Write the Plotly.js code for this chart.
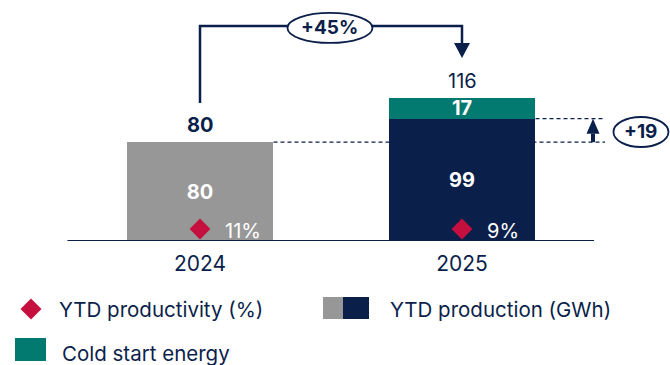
<!DOCTYPE html>
<html>
<head>
<meta charset="utf-8">
<script src="https://cdn.plot.ly/plotly-3.0.1.min.js"></script>
<style>html,body{margin:0;padding:0;background:#fff;}#chart{width:670px;height:365px;}</style>
</head>
<body>
<div id="chart"></div>
<script>
// ---- data ----
const years = ['2024', '2025'];
const production = [80, 99];          // YTD production (GWh)
const coldStart = [0, 17];            // Cold start energy (GWh)
const productivity = [11, 9];         // YTD productivity (%)
const totals = production.map((v, i) => v + coldStart[i]);   // 80, 116
const growthLabel = '+45%';
const deltaLabel = '+19';

// ---- styles ----
const NAVY = '#0b1f4b';
const GREY = '#979797';
const TEAL = '#037a6f';
const RED = '#c50f3f';
const FONT = 'Inter, "Noto Sans", sans-serif';

const xPos = years.map((_, i) => i);
const BW = 0.561;
const PLOT_H = 241;     // plot area height in px
const YMAX = 195;
const pxY = YMAX / PLOT_H;  // data units per px
const pxX = 1 / 262;        // data units per px
const diamondLevel = 9.7;

const traces = [
  {
    type: 'bar', x: xPos, y: production, width: BW,
    marker: {color: [GREY, NAVY], line: {width: 0}},
    text: production.map(v => '<b>' + v + '</b>'), textposition: 'inside', insidetextanchor: 'middle',
    textangle: 0, constraintext: 'none',
    textfont: {color: '#ffffff', size: 20, family: FONT},
    hoverinfo: 'skip', showlegend: false
  },
  {
    type: 'bar', x: xPos.filter((_, i) => coldStart[i] > 0), y: coldStart.filter(v => v > 0), width: BW,
    marker: {color: TEAL, line: {width: 0}},
    text: coldStart.filter(v => v > 0).map(v => '<b>' + v + '</b>'), textposition: 'inside', insidetextanchor: 'middle',
    textangle: 0, constraintext: 'none',
    textfont: {color: '#ffffff', size: 20, family: FONT},
    hoverinfo: 'skip', showlegend: false
  },
  {
    type: 'scatter', mode: 'markers', x: xPos, y: xPos.map(() => diamondLevel),
    marker: {symbol: 'diamond', size: 16, color: RED, line: {width: 0}},
    cliponaxis: false, hoverinfo: 'skip', showlegend: false
  }
];

const shapes = [];
const annotations = [];

// totals above bars
xPos.forEach((x, i) => {
  annotations.push({xref: 'x', yref: 'y', x: x, y: totals[i], yshift: 17, xanchor: 'center', yanchor: 'middle',
    text: coldStart[i] > 0 ? String(totals[i]) : '<b>' + totals[i] + '</b>', showarrow: false,
    font: {color: NAVY, size: 20, family: FONT}});
});

// baseline
shapes.push({type: 'line', xref: 'x', yref: 'y', x0: -0.506, x1: 1.504, y0: 0, y1: 0,
  line: {color: NAVY, width: 2}, layer: 'above'});

// growth bracket
const yTop = 174;
const yStart = totals[0] + 31.7;
const headTop = 160.2, headTip = 148;
shapes.push({type: 'path', xref: 'x', yref: 'y',
  path: `M ${xPos[0]} ${yStart} L ${xPos[0]} ${yTop} L ${xPos[1]} ${yTop} L ${xPos[1]} ${headTop}`,
  line: {color: NAVY, width: 2.5}, layer: 'above'});
shapes.push({type: 'path', xref: 'x', yref: 'y',
  path: `M ${xPos[1] - 8 * pxX} ${headTop} L ${xPos[1] + 8 * pxX} ${headTop} L ${xPos[1]} ${headTip} Z`,
  fillcolor: NAVY, line: {color: NAVY, width: 0}, layer: 'above'});
// +45% ellipse
const e1cx = 0.496, e1cy = 172.4;
shapes.push({type: 'circle', xref: 'x', yref: 'y',
  x0: e1cx - 42.5 * pxX, x1: e1cx + 42.5 * pxX, y0: e1cy - 15 * pxY, y1: e1cy + 15 * pxY,
  fillcolor: '#ffffff', line: {color: NAVY, width: 1.8}, layer: 'above'});
annotations.push({xref: 'x', yref: 'y', x: e1cx, y: e1cy, text: '<b>' + growthLabel + '</b>', showarrow: false,
  font: {color: NAVY, size: 19, family: FONT}, xanchor: 'center', yanchor: 'middle'});

// dashed reference lines
const dashEnd = 1.546;
shapes.push({type: 'line', xref: 'x', yref: 'y', x0: xPos[0] + BW / 2, x1: dashEnd, y0: production[0], y1: production[0],
  line: {color: NAVY, width: 1.2, dash: '4px,3px'}, layer: 'above'});
shapes.push({type: 'line', xref: 'x', yref: 'y', x0: xPos[1] + BW / 2, x1: dashEnd, y0: production[1], y1: production[1],
  line: {color: NAVY, width: 1.2, dash: '4px,3px'}, layer: 'above'});
// up arrow
const ax = 1.5;
const upBase = production[1] - 15 * pxY;
shapes.push({type: 'line', xref: 'x', yref: 'y', x0: ax, x1: ax, y0: production[0], y1: upBase,
  line: {color: NAVY, width: 4}, layer: 'above'});
shapes.push({type: 'path', xref: 'x', yref: 'y',
  path: `M ${ax - 6.5 * pxX} ${upBase} L ${ax + 6.5 * pxX} ${upBase} L ${ax} ${production[1]} Z`,
  fillcolor: NAVY, line: {color: NAVY, width: 0}, layer: 'above'});
// +19 ellipse
const e2cx = 1.683, e2cy = 88.2;
shapes.push({type: 'circle', xref: 'x', yref: 'y',
  x0: e2cx - 27.5 * pxX, x1: e2cx + 27.5 * pxX, y0: e2cy - 15 * pxY, y1: e2cy + 15 * pxY,
  fillcolor: '#ffffff', line: {color: NAVY, width: 1.8}, layer: 'above'});
annotations.push({xref: 'x', yref: 'y', x: e2cx, y: e2cy, text: '<b>' + deltaLabel + '</b>', showarrow: false,
  font: {color: NAVY, size: 19, family: FONT}, xanchor: 'center', yanchor: 'middle'});

// productivity labels
xPos.forEach((x, i) => {
  annotations.push({xref: 'x', yref: 'y', x: x, y: diamondLevel, xshift: 23, yshift: -2, xanchor: 'left', yanchor: 'middle',
    text: productivity[i] + '%', showarrow: false, font: {color: '#ffffff', size: 20, family: FONT}});
});

// legend (paper coords from px)
const PX = x => x / 670;
const PY = y => (PLOT_H - y) / PLOT_H;
shapes.push({type: 'path', xref: 'paper', yref: 'paper',
  path: `M ${PX(20.5)} ${PY(309)} L ${PX(31)} ${PY(298.5)} L ${PX(41.5)} ${PY(309)} L ${PX(31)} ${PY(319.5)} Z`,
  fillcolor: RED, line: {width: 0}});
shapes.push({type: 'rect', xref: 'paper', yref: 'paper', x0: PX(323), x1: PX(343), y0: PY(319), y1: PY(297),
  fillcolor: GREY, line: {width: 0}});
shapes.push({type: 'rect', xref: 'paper', yref: 'paper', x0: PX(343), x1: PX(369), y0: PY(319), y1: PY(297),
  fillcolor: NAVY, line: {width: 0}});
shapes.push({type: 'rect', xref: 'paper', yref: 'paper', x0: PX(15), x1: PX(46), y0: PY(361), y1: PY(338),
  fillcolor: TEAL, line: {width: 0}});
const legendText = [
  ['YTD productivity (%)', 57, 310],
  ['YTD production (GWh)', 388, 310],
  ['Cold start energy', 60, 353]
];
legendText.forEach(([t, x, y]) => {
  annotations.push({xref: 'paper', yref: 'paper', x: PX(x), y: PY(y), text: t, showarrow: false,
    xanchor: 'left', yanchor: 'middle', font: {color: NAVY, size: 20.5, family: FONT}});
});

const layout = {
  width: 670, height: 365,
  margin: {l: 0, r: 0, t: 0, b: 124, pad: 0},
  paper_bgcolor: '#ffffff', plot_bgcolor: '#ffffff',
  barmode: 'stack', showlegend: false,
  font: {family: FONT, color: NAVY},
  xaxis: {type: 'linear', range: [-200 / 262, 470 / 262], tickvals: xPos, ticktext: years,
    showgrid: false, zeroline: false, showline: false, ticks: '', ticklabelstandoff: 8,
    tickfont: {size: 21, color: NAVY, family: FONT}, fixedrange: true},
  yaxis: {range: [0, YMAX], showgrid: false, zeroline: false, showline: false, showticklabels: false,
    ticks: '', fixedrange: true},
  shapes: shapes,
  annotations: annotations
};

Plotly.newPlot('chart', traces, layout, {displayModeBar: false, staticPlot: true});
</script>
</body>
</html>
